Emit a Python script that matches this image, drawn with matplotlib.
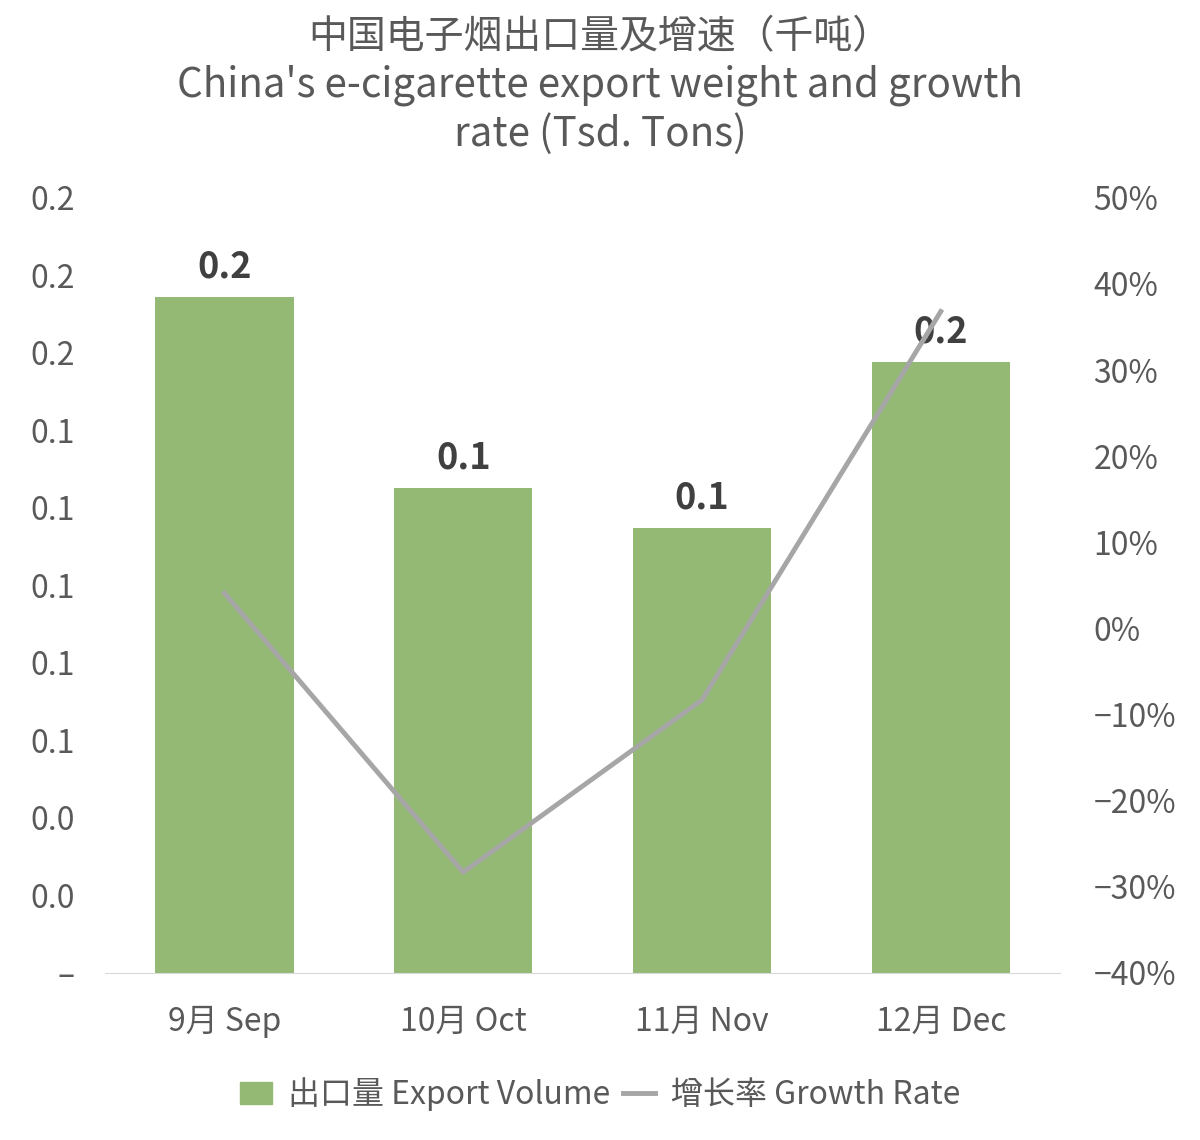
import matplotlib.pyplot as plt
from matplotlib import font_manager
from matplotlib.lines import Line2D
from matplotlib.patches import Patch
import numpy as np

# find a CJK font
cjk = [f for f in font_manager.findSystemFonts() if 'cjk' in f.lower()]
for f in cjk:
    try:
        font_manager.fontManager.addfont(f)
    except Exception:
        pass
names = sorted({e.name for e in font_manager.fontManager.ttflist if 'CJK' in e.name})
plt.rcParams['font.family'] = 'sans-serif'
plt.rcParams['font.sans-serif'] = [n for n in names if 'SC' in n] + names + ['DejaVu Sans']

months = ['9月 Sep', '10月 Oct', '11月 Nov', '12月 Dec']
export_volume = [0.1745, 0.1252, 0.1148, 0.1577]
growth_rate = [4.1, -28.3, -8.3, 36.8]

bar_color = '#93b975'
line_color = '#a6a6a6'
text_color = '#595959'

fig = plt.figure(figsize=(12, 11.4), dpi=100)
ax = fig.add_axes([0.0875, 0.1465, 0.796, 0.68])
x = np.arange(len(months))
ax.bar(x, export_volume, width=0.58, color=bar_color, zorder=2)
for xi, v in zip(x, export_volume):
    ax.text(xi, v + 0.003, f'{v:.1f}', ha='center', va='bottom', fontsize=26,
            fontweight='bold', color='#404040')
ax.set_ylim(0, 0.2)
ax.set_xlim(-0.5, 3.5)
yt = np.arange(0, 0.2001, 0.02)
ax.set_yticks(yt)
ax.set_yticklabels(['–'] + [f'{t:.1f}' for t in yt[1:]])
ax.set_xticks(x)
ax.set_xticklabels(months)
ax.tick_params(axis='y', length=0, labelsize=23, colors=text_color, pad=22)
ax.tick_params(axis='x', length=0, labelsize=23, colors=text_color, pad=24)
for s in ['top', 'right', 'left']:
    ax.spines[s].set_visible(False)
ax.spines['bottom'].set_color('#d9d9d9')

ax2 = ax.twinx()
ax2.plot(x, growth_rate, color=line_color, linewidth=3.5, zorder=3)
ax2.set_ylim(-40, 50)
ax2.set_yticks(np.arange(-40, 51, 10))
ax2.set_yticklabels([f'{t}%'.replace('-', '−') for t in range(-40, 51, 10)])
ax2.tick_params(axis='y', length=0, labelsize=23, colors=text_color, pad=24)
for s in ax2.spines.values():
    s.set_visible(False)

fig.text(0.5, 0.967, '中国电子烟出口量及增速（千吨）', ha='center', va='center',
         fontsize=28, color=text_color)
fig.text(0.5, 0.904, "China's e-cigarette export weight and growth\nrate (Tsd. Tons)",
         ha='center', va='center', fontsize=29, color=text_color, linespacing=1.2)

handles = [Patch(color=bar_color, label='出口量 Export Volume'),
           Line2D([], [], color=line_color, linewidth=3.5, label='增长率 Growth Rate')]
fig.legend(handles=handles, loc='center', bbox_to_anchor=(0.5, 0.04), ncol=2,
           frameon=False, fontsize=23, labelcolor=text_color, handlelength=1.0,
           handletextpad=0.5, columnspacing=0.4)

fig.savefig('out.png')
